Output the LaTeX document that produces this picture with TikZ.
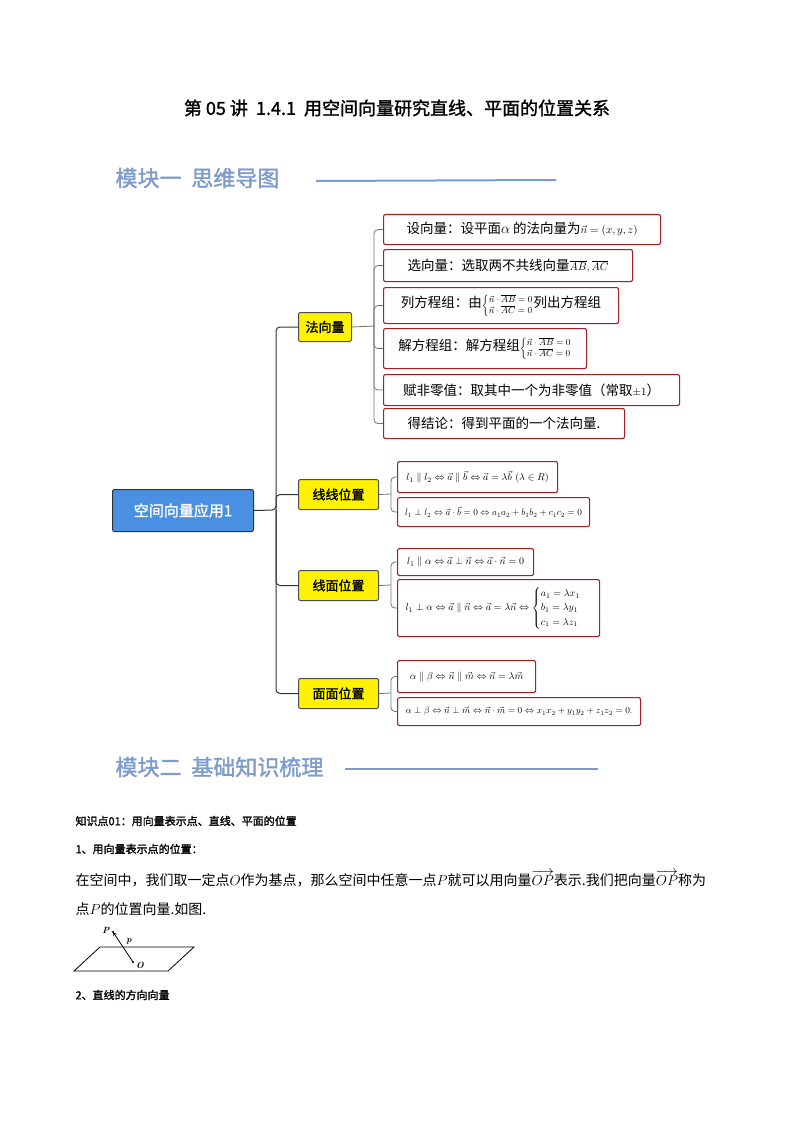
\documentclass[tikz,border=0pt]{standalone}
\usepackage{amsmath}
\usepackage{graphicx}
\usepackage{fontspec}
\newfontfamily\cjk{Noto Sans CJK SC}
\newfontfamily\cjkb{Noto Sans CJK SC}[FakeBold=1.5]
\definecolor{hdr}{RGB}{125,155,205}
\definecolor{rootc}{RGB}{74,144,226}
\definecolor{boxr}{RGB}{165,30,35}
\begin{document}
\begin{tikzpicture}[x=1pt,y=-1pt,
  rbox/.style={draw=boxr,line width=1.1pt,rounded corners=2pt,fill=white,anchor=north west,inner sep=0pt,font=\cjk\fontsize{13.5}{15}\selectfont},
  fbox/.style={rbox,font=\fontsize{10.3}{12}\selectfont},
  ybox/.style={draw=black!70,line width=1pt,rounded corners=2pt,fill=yellow,anchor=north west,inner sep=0pt,font=\cjkb\fontsize{13}{15}\selectfont},
  tr/.style={line width=1pt,black!80,rounded corners=4pt},
  br/.style={line width=0.8pt,black!55,rounded corners=4pt}]
\useasboundingbox (0,0) rectangle (794,1123);
\node (title) at (397,108) {\cjkb\fontsize{18}{20}\selectfont 第 05 讲\ \ 1.4.1\ \ 用空间向量研究直线、平面的位置关系};
\node[anchor=west,text=hdr] (h1) at (112,178) {\cjkb\fontsize{22}{24}\selectfont 模块一\ \ 思维导图};
\draw[hdr,line width=2pt] (316,181) -- (556,180);
% root
\node[draw=black!80,fill=rootc,rounded corners=2pt,line width=1pt,anchor=north west,minimum width=141pt,minimum height=42pt,text=white,font=\cjkb\fontsize{15}{17}\selectfont] (root) at (112,489) {空间向量应用1};
\node[ybox,minimum width=53pt,minimum height=29pt] (fa) at (298,312) {法向量};
\node[ybox,minimum width=80pt,minimum height=30pt] (xx) at (298,479) {线线位置};
\node[ybox,minimum width=80pt,minimum height=30pt] (xm) at (298,570) {线面位置};
\node[ybox,minimum width=80pt,minimum height=30pt] (mm) at (298,678) {面面位置};
\coordinate (J) at (276,510);
\draw[tr] (root.east) -- (J) |- (fa.west);
\draw[tr] (J) |- (xx.west);
\draw[tr] (J) |- (xm.west);
\draw[tr] (J) |- (mm.west);
% normal vector children
\node[rbox,minimum width=277pt,minimum height=30pt] (c1) at (383,214) {设向量：设平面$\alpha$ 的法向量为{\fontsize{11}{12}\selectfont$\vec n=(x,y,z)$}};
\node[rbox,minimum width=249pt,minimum height=32pt] (c2) at (383,249) {选向量：选取两不共线向量{\fontsize{11}{12}\selectfont$\overline{AB},\overline{AC}$}};
\node[rbox,minimum width=235pt,minimum height=36pt] (c3) at (383,287) {列方程组：由{\fontsize{9}{10}\selectfont$\left\{\begin{array}{@{}l@{}}\vec n\cdot\overline{AB}=0\\ \vec n\cdot\overline{AC}=0\end{array}\right.$}列出方程组};
\node[rbox,minimum width=203pt,minimum height=40pt] (c4) at (383,328) {解方程组：解方程组{\fontsize{9}{10}\selectfont$\left\{\begin{array}{@{}l@{}}\vec n\cdot\overline{AB}=0\\ \vec n\cdot\overline{AC}=0\end{array}\right.$}};
\node[rbox,minimum width=296pt,minimum height=31pt] (c5) at (383,374) {赋非零值：取其中一个为非零值（常取{\fontsize{11}{12}\selectfont$\pm1$}）};
\node[rbox,minimum width=241pt,minimum height=30pt] (c6) at (383,408) {得结论：得到平面的一个法向量.};
\coordinate (Bf) at (374,326);
\draw[br] (fa.east) -- (Bf);
\foreach \c in {c1,c2,c3,c4,c5,c6} \draw[br] (Bf) |- (\c.west);
% line-line
\node[fbox,minimum width=160pt,minimum height=31pt] (l1) at (397,461) {$l_1\parallel l_2\Leftrightarrow\vec a\parallel\vec b\Leftrightarrow\vec a=\lambda\vec b\ (\lambda\in R)$};
\node[fbox,minimum width=192pt,minimum height=29pt] (l2) at (397,497) {\scalebox{0.92}{$l_1\perp l_2\Leftrightarrow\vec a\cdot\vec b=0\Leftrightarrow a_1a_2+b_1b_2+c_1c_2=0$}};
\coordinate (Bx) at (391,494);
\draw[br] (xx.east) -- (Bx);
\foreach \c in {l1,l2} \draw[br] (Bx) |- (\c.west);
% line-plane
\node[fbox,minimum width=136pt,minimum height=27pt] (p1) at (397,548) {$l_1\parallel \alpha\Leftrightarrow\vec a\perp\vec n\Leftrightarrow\vec a\cdot\vec n=0$};
\node[fbox,minimum width=202pt,minimum height=57pt] (p2) at (397,579) {$l_1\perp \alpha\Leftrightarrow\vec a\parallel\vec n\Leftrightarrow\vec a=\lambda\vec n\Leftrightarrow\begin{cases}a_1=\lambda x_1\\ b_1=\lambda y_1\\ c_1=\lambda z_1\end{cases}$};
\coordinate (Bm) at (391,585);
\draw[br] (xm.east) -- (Bm);
\foreach \c in {p1,p2} \draw[br] (Bm) |- (\c.west);
% plane-plane
\node[fbox,minimum width=138pt,minimum height=32pt] (q1) at (397,660) {$\alpha\parallel\beta\Leftrightarrow\vec n\parallel\vec m\Leftrightarrow\vec n=\lambda\vec m$};
\node[fbox,minimum width=243pt,minimum height=28pt] (q2) at (397,697) {\scalebox{0.93}{$\alpha\perp\beta\Leftrightarrow\vec n\perp\vec m\Leftrightarrow\vec n\cdot\vec m=0\Leftrightarrow x_1x_2+y_1y_2+z_1z_2=0.$}};
\coordinate (Bq) at (391,693);
\draw[br] (mm.east) -- (Bq);
\foreach \c in {q1,q2} \draw[br] (Bq) |- (\c.west);
% module two
\node[anchor=west,text=hdr] (h2) at (112,767) {\cjkb\fontsize{22}{24}\selectfont 模块二\ \ 基础知识梳理};
\draw[hdr,line width=2pt] (345,769) -- (598,769);
\node[anchor=west] (k1) at (72,821) {\cjkb\fontsize{11}{13}\selectfont 知识点01：用向量表示点、直线、平面的位置};
\node[anchor=west] (k2) at (72,849) {\cjkb\fontsize{11}{13}\selectfont 1、用向量表示点的位置：};
\node[anchor=west] (k3) at (72,879) {\cjk\fontsize{14}{16}\selectfont 在空间中，我们取一定点$O$作为基点，那么空间中任意一点$P$就可以用向量$\overrightarrow{OP}$表示.我们把向量$\overrightarrow{OP}$称为};
\node[anchor=west] (k4) at (72,909) {\cjk\fontsize{14}{16}\selectfont 点$P$的位置向量.如图.};
\draw[line width=0.8pt] (74,971) -- (100,947) -- (194,947) -- (168,971) -- cycle;
\coordinate (O) at (133,962);
\coordinate (P) at (113,932);
\draw[-stealth,line width=0.8pt] (O) -- (P);
\fill (O) circle (1.2pt) (P) circle (1.2pt);
\node[font=\bfseries\itshape\small] (lp) at (106,930) {P};
\node[font=\bfseries\itshape\small] (lp2) at (129,941) {p};
\node[font=\bfseries\itshape\small] (lo) at (140,965) {O};
\node[anchor=west] (k5) at (72,995) {\cjkb\fontsize{11}{13}\selectfont 2、直线的方向向量};
\end{tikzpicture}
\end{document}
